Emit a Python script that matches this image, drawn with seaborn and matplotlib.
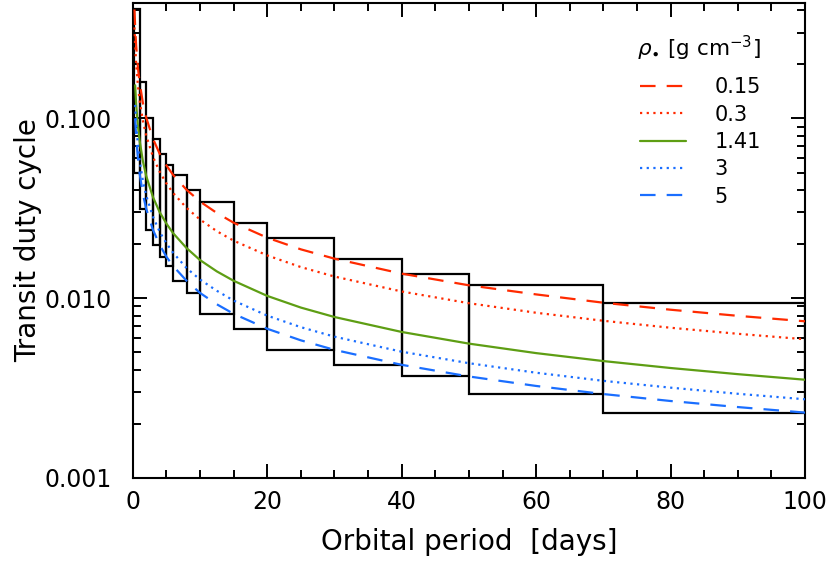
import numpy as np
import pandas as pd
import matplotlib
matplotlib.use("Agg")
import matplotlib.pyplot as plt
import seaborn as sns
from matplotlib.ticker import MultipleLocator, LogLocator, FixedLocator, NullFormatter

# ---------------- data ----------------
period_a = [0.25, 0.35, 0.5, 0.75, 1, 1.5, 2, 3, 4, 5, 6, 8, 10, 12.5, 15, 20, 25, 30,
            40, 50, 60, 70, 80, 90, 100]
period_b = period_a[1:]

dc_015 = [0.404, 0.323, 0.254, 0.194, 0.160, 0.122, 0.101, 0.0771, 0.0636, 0.0548, 0.0485,
          0.0401, 0.0345, 0.0298, 0.0263, 0.0217, 0.0187, 0.0166, 0.0137, 0.0118, 0.0105,
          0.00944, 0.00863, 0.00798, 0.00744]
dc_03 = [0.321, 0.256, 0.202, 0.154, 0.127, 0.0971, 0.0802, 0.0612, 0.0505, 0.0435, 0.0385,
         0.0318, 0.0274, 0.0236, 0.0209, 0.0173, 0.0149, 0.0132, 0.0109, 0.00938, 0.00830,
         0.00749, 0.00685, 0.00634, 0.00591]
dc_141 = [0.153, 0.120, 0.0920, 0.0759, 0.0579, 0.0478, 0.0365, 0.0301, 0.0260, 0.0230,
          0.0190, 0.0163, 0.0141, 0.0125, 0.0103, 0.00887, 0.00786, 0.00649, 0.00559,
          0.00495, 0.00447, 0.00409, 0.00378, 0.00352]
dc_3 = [0.119, 0.0937, 0.0715, 0.0590, 0.0450, 0.0372, 0.0284, 0.0234, 0.0202, 0.0179,
        0.0147, 0.0127, 0.0110, 0.00970, 0.00800, 0.00690, 0.00611, 0.00504, 0.00435,
        0.00385, 0.00347, 0.00318, 0.00294, 0.00274]
dc_5 = [0.100, 0.0791, 0.0604, 0.0498, 0.0380, 0.0314, 0.0240, 0.0198, 0.0170, 0.0151,
        0.0125, 0.0107, 0.00925, 0.00819, 0.00676, 0.00583, 0.00516, 0.00426, 0.00367,
        0.00325, 0.00293, 0.00268, 0.00248, 0.00231]

densities = ["0.15", "0.3", "1.41", "3", "5"]

bin_edges = [0.25, 1, 2, 3, 4, 5, 6, 8, 10, 15, 20, 30, 40, 50, 70, 100]
box_top = [0.404, 0.160, 0.101, 0.0771, 0.0636, 0.0548, 0.0485, 0.0401, 0.0345, 0.0263,
           0.0217, 0.0166, 0.0137, 0.0118, 0.00944]
box_bottom = [0.0498, 0.0314, 0.0240, 0.0198, 0.0170, 0.0151, 0.0125, 0.0107, 0.00819,
              0.00676, 0.00516, 0.00426, 0.00367, 0.00293, 0.00231]

xtick_labels = ["0", "20", "40", "60", "80", "100"]
ytick_labels = ["0.001", "0.010", "0.100"]

# ---------------- styling ----------------
sns.set_theme(style="ticks")
plt.rcParams["font.family"] = ["DejaVu Sans"]
plt.rcParams["mathtext.fontset"] = "dejavusans"
plt.rcParams["text.color"] = "black"
plt.rcParams["axes.labelcolor"] = "black"
plt.rcParams["xtick.color"] = "black"
plt.rcParams["ytick.color"] = "black"

fig = plt.figure(figsize=(8.30, 5.61), dpi=100)
ax = fig.add_axes([0.160, 0.148, 0.810, 0.847])

red = "#FF2A00"
green = "#5E9E14"
blue = "#1A6EFF"

# boxes
lefts = np.array(bin_edges[:-1])
widths = np.diff(bin_edges)
ax.bar(lefts, np.array(box_top) - np.array(box_bottom), bottom=box_bottom, width=widths,
       align="edge", fill=False, edgecolor="black", linewidth=1.6, zorder=3)

series = [
    (period_a, dc_015, densities[0], red, (0, (7, 5))),
    (period_a, dc_03, densities[1], red, (0, (1, 2))),
    (period_b, dc_141, densities[2], green, "-"),
    (period_b, dc_3, densities[3], blue, (0, (1, 2))),
    (period_b, dc_5, densities[4], blue, (0, (7, 5))),
]
for xs, ys, lab, col, ls in series:
    df = pd.DataFrame({"P": xs, "dc": ys})
    sns.lineplot(data=df, x="P", y="dc", ax=ax, color=col, linestyle=ls, linewidth=1.6,
                 label=lab, zorder=4)

ax.set_yscale("log")
ax.set_xlim(0, 100)
ax.set_ylim(0.001, 0.44)

ax.xaxis.set_major_locator(MultipleLocator(20))
ax.xaxis.set_minor_locator(MultipleLocator(5))
ax.yaxis.set_major_locator(FixedLocator([0.001, 0.01, 0.1]))
ax.yaxis.set_minor_locator(LogLocator(base=10, subs=np.arange(2, 10)))
ax.yaxis.set_minor_formatter(NullFormatter())
ax.set_yticks([0.001, 0.01, 0.1])
ax.set_yticklabels(ytick_labels)
ax.set_xticks([0, 20, 40, 60, 80, 100])
ax.set_xticklabels(xtick_labels)

for s in ax.spines.values():
    s.set_linewidth(1.5)
    s.set_color("black")
    s.set_visible(True)
ax.tick_params(which="both", direction="in", top=True, right=True, color="black",
               width=1.4, labelsize=17, labelcolor="black")
ax.tick_params(axis="x", which="major", pad=9)
ax.tick_params(axis="y", which="major", pad=15)
ax.tick_params(which="major", length=10)
ax.tick_params(which="minor", length=5.5)

ax.set_xlabel("Orbital period  [days]", fontsize=20, labelpad=10, color="black")
ax.set_ylabel("Transit duty cycle", fontsize=20, labelpad=2, color="black")

leg = ax.legend(title=r"$\rho_{\bullet}$ [g cm$^{-3}$]", loc="upper left", frameon=False,
                fontsize=15, title_fontsize=15.5, handlelength=2.2, handletextpad=1.35,
                labelspacing=0.35, borderpad=0, borderaxespad=0,
                bbox_to_anchor=(0.75, 0.935), alignment="right")
try:
    leg._legend_box.sep = 10.5
except Exception:
    pass
for t in leg.get_texts():
    t.set_color("black")
leg.get_title().set_color("black")

fig.savefig("out.png", dpi=100)
